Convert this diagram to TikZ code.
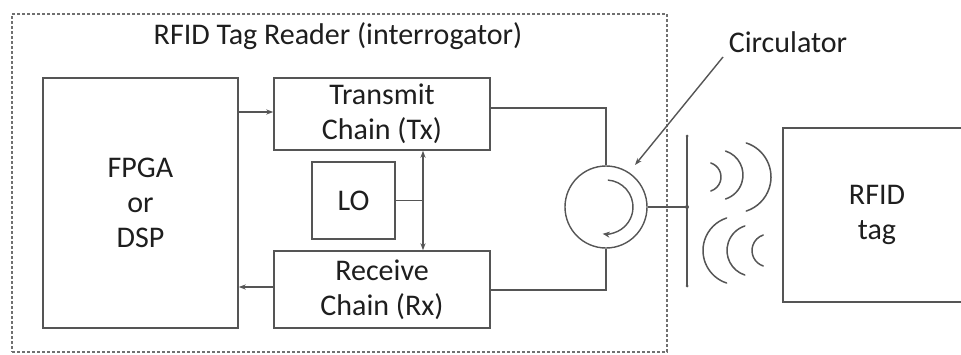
\documentclass[tikz,border=0pt]{standalone}
\usepackage{fontspec}
\setmainfont{Carlito}
\usetikzlibrary{arrows.meta}
\definecolor{ln}{HTML}{555555}
\definecolor{tx}{HTML}{1E1E1E}
\definecolor{dsh}{HTML}{707070}
\begin{document}
\begin{tikzpicture}[x=1pt,y=-1pt,
  box/.style={draw=ln, line width=1.4pt, inner sep=0pt, align=center, text=tx,
              font=\fontsize{30}{35}\selectfont},
  lbl/.style={inner sep=0pt, text=tx, font=\fontsize{30}{35}\selectfont, align=center},
  wire/.style={draw=ln, line width=1.4pt},
  arr/.style={wire, -{Stealth[length=7pt,width=5pt]}},
  wave/.style={draw=ln, line width=1.5pt, line cap=round},
  dotc/.style={circle, fill=ln, inner sep=0pt, minimum size=4pt}
]
\useasboundingbox (0,0) rectangle (961,354);
\clip (0,0) rectangle (961,354);
\fill[white] (0,0) rectangle (961,354);

% reader enclosure
\node[draw=dsh, line width=1.1pt, dash pattern=on 3pt off 2pt, minimum width=655pt,
      minimum height=338pt, inner sep=0pt] (reader) at (339.5,183) {};
\node[lbl] (title) at (338,36) {RFID Tag Reader (interrogator)};

% blocks
\node[box, minimum width=195pt, minimum height=250pt] (fpga) at (140.5,203) {FPGA\\or\\DSP};
\node[box, minimum width=216pt, minimum height=72pt] (tx) at (382,114) {Transmit\\Chain (Tx)};
\node[box, minimum width=216pt, minimum height=77pt] (rx) at (382,289.5) {Receive\\Chain (Rx)};
\node[box, minimum width=83pt, minimum height=77pt] (lo) at (353.5,200.5) {LO};
\node[draw=ln, line width=1.4pt, circle, minimum size=82pt, inner sep=0pt] (circ) at (606,207) {};
\node[box, minimum width=188pt, minimum height=174pt] (tag) at (877,215) {RFID\\tag};

% helper coordinates
\coordinate (ya) at (0,112);
\coordinate (yb) at (0,287);
\coordinate (yt) at (0,108);
\coordinate (yr) at (0,290);
\coordinate (vx) at (423,0);
\coordinate (anttop) at (687,136);
\coordinate (antmid) at (687,207);
\coordinate (antbot) at (687,286);

% connectors
\draw[arr] (fpga.east |- ya) -- (tx.west |- ya);
\draw[arr] (rx.west |- yb) -- (fpga.east |- yb);
\draw[wire, {Stealth[length=7pt,width=5pt]}-{Stealth[length=7pt,width=5pt]}] (tx.south -| vx) -- (rx.north -| vx);
\draw[wire] (lo.east) -- (lo.east -| vx);
\draw[wire] (tx.east |- yt) -| (circ.north);
\draw[wire] (circ.south) |- (rx.east |- yr);
\draw[wire] (circ.east) -- (antmid);
\draw[wire] (anttop) -- (antbot);
\node[dotc, minimum size=3pt] at (anttop) {};
\node[dotc] at (antmid) {};
\node[dotc, minimum size=3pt] at (antbot) {};

% circulator inner arrow (y axis flipped: system angle = -visual angle)
\draw[wire, -{Stealth[length=7pt,width=6pt]}] (circ.center) ++(-86:27) arc[start angle=-86, end angle=97, radius=27];

% circulator label
\node[lbl] (clab) at (788,42) {Circulator};
\coordinate (c1) at (723,57);
\coordinate (c2) at (635,165);
\draw[arr] (c1) -- (c2);

% waves: outgoing
\draw[wave] (706.3,177) ++(-72:14.7) arc[start angle=-72, end angle=72, radius=14.7];
\draw[wave] (717.8,175) ++(-72:25.2) arc[start angle=-72, end angle=72, radius=25.2];
\draw[wave] (735.2,177) ++(-72:35.8) arc[start angle=-72, end angle=72, radius=35.8];
% waves: incoming
\draw[wave] (737.2,250.5) ++(108:34.2) arc[start angle=108, end angle=252, radius=34.2];
\draw[wave] (752.8,250.5) ++(108:25.8) arc[start angle=108, end angle=252, radius=25.8];
\draw[wave] (768.3,250.5) ++(108:16.3) arc[start angle=108, end angle=252, radius=16.3];
\end{tikzpicture}
\end{document}
